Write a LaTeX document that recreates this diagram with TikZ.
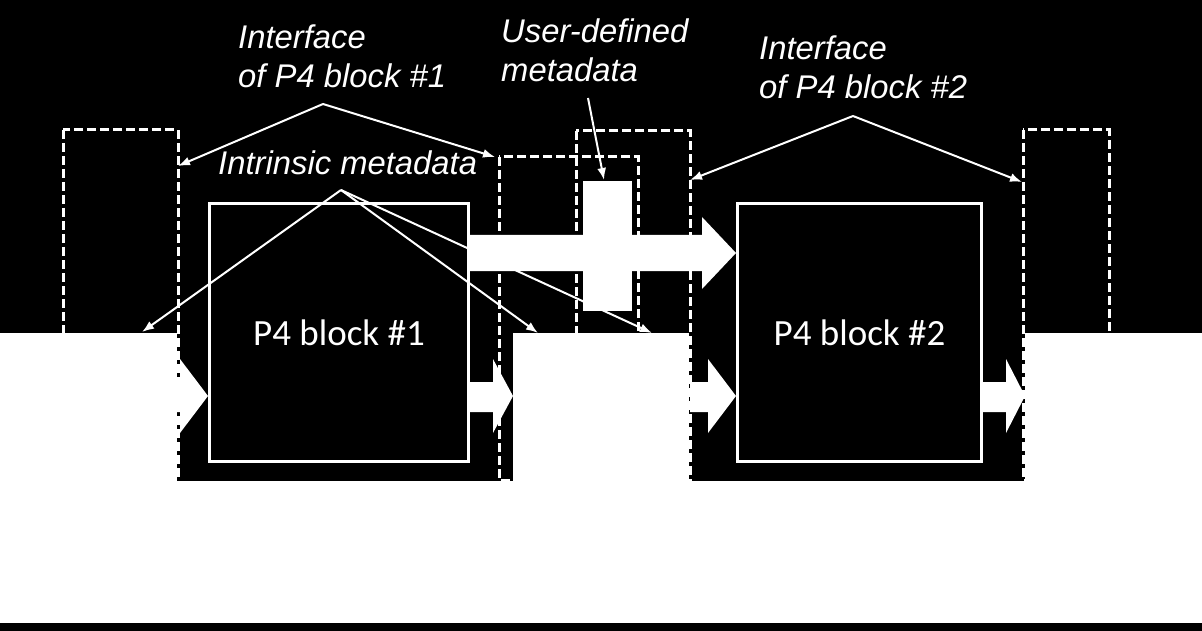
\documentclass[tikz,border=0pt]{standalone}
\usepackage{fontspec}
\setmainfont{Liberation Sans}
\newfontfamily\blockfont{Carlito}
\usetikzlibrary{arrows.meta}
\tikzset{>={Latex[length=12pt,width=9pt]}}

\begin{document}
\begin{tikzpicture}[x=1pt, y=-1pt,
    iface/.style={draw=white, line width=3pt, dash pattern=on 9pt off 4pt},
    p4block/.style={draw=white, fill=black, line width=3pt, text=white, inner sep=0pt, font=\blockfont\fontsize{37}{40}\selectfont},
    note/.style={text=white, inner sep=0pt, align=left, font=\itshape\fontsize{32.8}{39}\selectfont},
    pointer/.style={->, draw=white, line width=2pt}]
    \useasboundingbox (0,0) rectangle (1202,631);
    \fill[black] (0,0) rectangle (1202,631);
    % white packet area
    \fill[white] (0,333) rectangle (1202,623);
    \fill[black] (177,333) rectangle (513,481);
    \fill[black] (689,333) rectangle (1025,481);

    % interfaces
    \draw[iface] (63,130) rectangle (178,480);
    \draw[iface] (499,157) rectangle (638,480);
    \draw[iface] (576,131) rectangle (690,480);
    \draw[iface] (1023,130) rectangle (1109,480);

    % blocks
    \node at (339,332.5) [p4block, minimum width=259, minimum height=258](blk1){P4 block \#1};
    \node at (859.5,332.5) [p4block, minimum width=244, minimum height=258](blk2){P4 block \#2};

    % data flow
    \fill[white] (blk1.east |- 0,235) -- (702,235) -- (702,217) -- (blk2.west |- 0,253) -- (702,289) -- (702,271) -- (blk1.east |- 0,271) -- cycle;
    \fill[white] (583,181) rectangle (632,311);
    \foreach \xa/\xb/\xc in {170/180/208, 470/493/513, 690/708/736, 982/1006/1025}
    \fill[white] (\xa,382) -- (\xb,382) -- (\xb,359) -- (\xc,396) -- (\xb,433) -- (\xb,412) -- (\xa,412) -- cycle;

    % labels
    \node at (238,25) [note, anchor=north west](lblIfa){Interface\\of P4 block \#1};
    \node at (501,19) [note, anchor=north west](lblUser){User-defined\\metadata};
    \node at (759,36) [note, anchor=north west](lblIfb){Interface\\of P4 block \#2};
    \node at (218,175) [note, anchor=base west](lblIntr){Intrinsic metadata};

    \coordinate (apexA) at (323,104);
    \coordinate (apexB) at (853,116);
    \coordinate (apexI) at (341,190);
    \draw [pointer] (apexA) -- (178,166);
    \draw [pointer] (apexA) -- (495,157);
    \draw [pointer] (588,98) -- (604,180);
    \draw [pointer] (apexB) -- (690,180);
    \draw [pointer] (apexB) -- (1022,182);
    \draw [pointer] (apexI) -- (142,332);
    \draw [pointer] (apexI) -- (538,333);
    \draw [pointer] (apexI) -- (652,333);
  \end{tikzpicture}
\end{document}
